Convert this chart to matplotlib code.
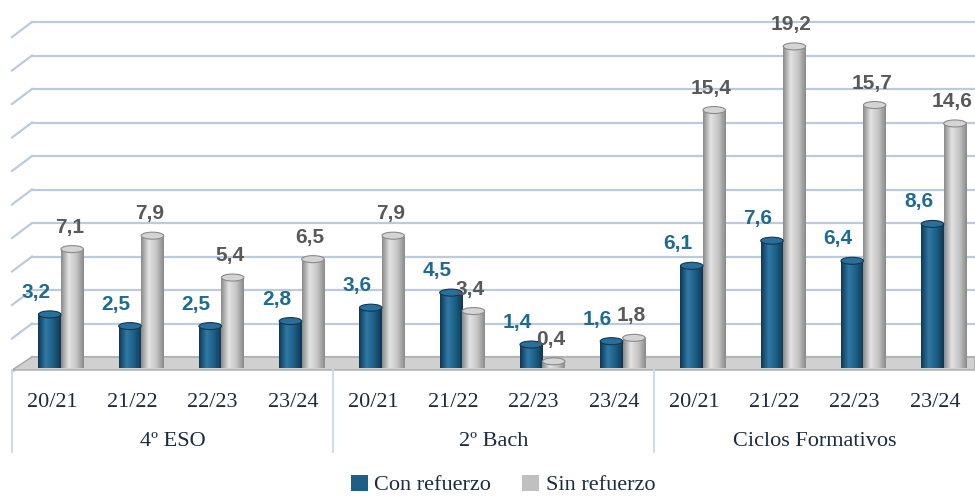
import numpy as np
from matplotlib import pyplot as plt
from matplotlib.colors import LinearSegmentedColormap
from matplotlib.patches import Patch, Ellipse, Polygon

plt.rcParams['font.family'] = ['Liberation Sans', 'DejaVu Sans']

groups = ['4º ESO', '2º Bach', 'Ciclos Formativos']
years = ['20/21', '21/22', '22/23', '23/24']
con_refuerzo = [3.2, 2.5, 2.5, 2.8, 3.6, 4.5, 1.4, 1.6, 6.1, 7.6, 6.4, 8.6]
sin_refuerzo = [7.1, 7.9, 5.4, 6.5, 7.9, 3.4, 0.4, 1.8, 15.4, 19.2, 15.7, 14.6]
series_names = ['Con refuerzo', 'Sin refuerzo']

BLUE = '#1d5f86'
GRAY = '#c4c4c4'
BLUE_TXT = '#1f6a90'
GRAY_TXT = '#595959'
AXIS_TXT = '#1c2b3e'
GRID = '#bccbdc'
BOX = '#c9d8ec'
SERIF = ['Liberation Serif', 'DejaVu Serif']

cm_blue = LinearSegmentedColormap.from_list('b', ['#0f3753', '#2f79a6', '#1d5f86', '#0f3753'])
cm_gray = LinearSegmentedColormap.from_list('g', ['#8a8a8a', '#e2e2e2', '#c6c6c6', '#8a8a8a'])

fig = plt.figure(figsize=(9.75, 4.98), dpi=100)
ax = fig.add_axes([12 / 975, 130 / 498, 963 / 975, 368 / 498])
ymax = 368 / 16.75
ax.set_xlim(-0.5, 11.5)
ax.set_ylim(0, ymax)
for s in ax.spines.values():
    s.set_visible(False)
ax.set_yticks([])

ppu = 16.75  # pixels per unit
yt = ax.get_yaxis_transform()
back = 20 / 963

# back-wall gridlines with diagonal stubs
for v in range(0, 21, 2):
    g = v + 11 / ppu
    ax.plot([back, 1], [g, g], transform=yt, color=GRID, lw=1.6, zorder=1, clip_on=False)
    ax.plot([0, back], [v - 4 / ppu, g], transform=yt, color=GRID, lw=1.6, zorder=1, clip_on=False)

# floor
floor = Polygon([(0, -2 / ppu), (back, 11 / ppu), (1, 11 / ppu), (1, -2 / ppu)],
                closed=True, transform=yt, facecolor='#d0d0d0', edgecolor='#a9a9a9',
                lw=1, zorder=2, clip_on=False)
ax.add_patch(floor)

x = np.arange(len(years) * len(groups))
w = 0.28
shift = 0.11
grad = np.linspace(0, 1, 64).reshape(1, -1)

def draw_bars(xs, vals, cmap, base, top):
    bars = ax.bar(xs, vals, width=w, color=base, zorder=3)
    for b in bars:
        x0, h = b.get_x(), b.get_height()
        im = ax.imshow(grad, cmap=cmap, aspect='auto', extent=(x0, x0 + w, 0, h),
                       zorder=3.1, interpolation='bilinear')
        im.set_clip_path(b)
        ax.add_patch(Ellipse((x0 + w / 2, h), w, 7 / ppu, facecolor=top,
                             edgecolor=cmap(0.0), lw=0.8, zorder=3.2))
    return bars

draw_bars(x + shift - w / 2, con_refuerzo, cm_blue, BLUE, '#2a6f99')
draw_bars(x + shift + w / 2, sin_refuerzo, cm_gray, GRAY, '#d4d4d4')
ax.set_xlim(-0.5, 11.5)
ax.set_ylim(0, ymax)

for xi, v in zip(x, con_refuerzo):
    ax.annotate(f'{v:.1f}'.replace('.', ','), (xi + shift - w / 2, v), xytext=(-14, 22),
                textcoords='offset pixels', ha='center', va='center', fontsize=15,
                fontweight='bold', color=BLUE_TXT, zorder=5)
for xi, v in zip(x, sin_refuerzo):
    ax.annotate(f'{v:.1f}'.replace('.', ','), (xi + shift + w / 2, v), xytext=(-3, 22),
                textcoords='offset pixels', ha='center', va='center', fontsize=15,
                fontweight='bold', color=GRAY_TXT, zorder=5)

# category axis
ax.set_xticks(x, years * len(groups), fontsize=16, family=SERIF, color=AXIS_TXT)
ax.tick_params(axis='x', length=0, pad=18)
xt = ax.get_xaxis_transform()
for gx in [-0.5, 3.5, 7.5]:
    ax.plot([gx, gx], [-2 / 368, -84 / 368], transform=xt, color=BOX, lw=1.3, clip_on=False)
for i, gname in enumerate(groups):
    ax.text(i * 4 + 1.5, -74 / 368, gname, transform=xt, ha='center', va='center',
            fontsize=16, family=SERIF, color=AXIS_TXT)

handles = [Patch(facecolor=BLUE), Patch(facecolor='#c0c0c0')]
fig.legend(handles, series_names, loc='center', bbox_to_anchor=(0.516, 0.026), ncol=2,
           frameon=False, handlelength=0.75, handleheight=0.75, handletextpad=0.3,
           columnspacing=1.4, prop={'family': SERIF, 'size': 16}, labelcolor=AXIS_TXT)

fig.savefig('out.png', dpi=100)
